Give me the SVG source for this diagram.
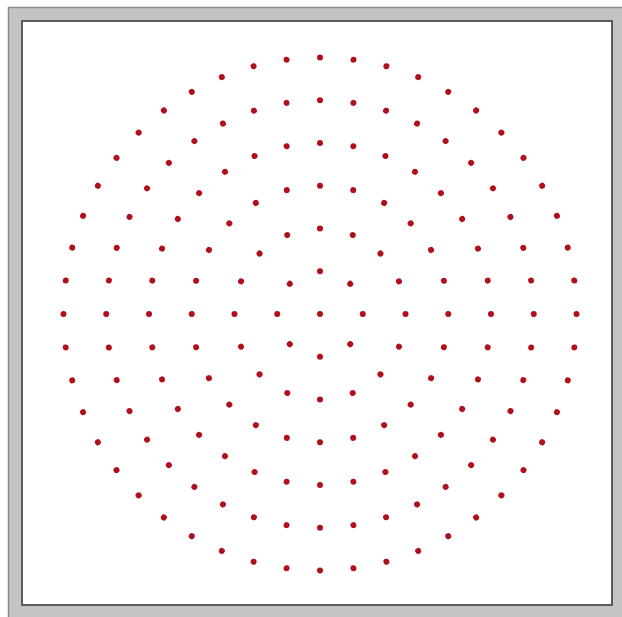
<svg xmlns="http://www.w3.org/2000/svg" xmlns:xlink="http://www.w3.org/1999/xlink" width="622" height="617" viewBox="0 0 622 617">
<style>
.dot{fill:#b0101c}
</style>
<defs>
<circle id="d1" class="dot" cx="362.75" cy="314" r="3"/>
<circle id="d2" class="dot" cx="405.5" cy="314" r="3"/>
<circle id="d3" class="dot" cx="448.25" cy="314" r="3"/>
<circle id="d4" class="dot" cx="491" cy="314" r="3"/>
<circle id="d5" class="dot" cx="533.75" cy="314" r="3"/>
<circle id="d6" class="dot" cx="576.5" cy="314" r="3"/>
</defs>
<rect x="0" y="0" width="622" height="617" fill="#ffffff"/>
<g id="frame">
<rect x="8.5" y="7.5" width="700" height="700" fill="#c4c4c4" stroke="#8a8a8a" stroke-width="1.5"/>
<rect x="22" y="21" width="590" height="584" fill="#ffffff" stroke="#5c5c5c" stroke-width="2"/>
</g>
<g id="dots">
<circle class="dot" cx="320" cy="314" r="3"/>
<g id="ring1">
<use href="#d1" transform="rotate(0 320 314)"/><use href="#d1" transform="rotate(45 320 314)"/><use href="#d1" transform="rotate(90 320 314)"/><use href="#d1" transform="rotate(135 320 314)"/><use href="#d1" transform="rotate(180 320 314)"/><use href="#d1" transform="rotate(225 320 314)"/><use href="#d1" transform="rotate(270 320 314)"/><use href="#d1" transform="rotate(315 320 314)"/>
</g>
<g id="ring2">
<use href="#d2" transform="rotate(0 320 314)"/><use href="#d2" transform="rotate(22.5 320 314)"/><use href="#d2" transform="rotate(45 320 314)"/><use href="#d2" transform="rotate(67.5 320 314)"/><use href="#d2" transform="rotate(90 320 314)"/><use href="#d2" transform="rotate(112.5 320 314)"/><use href="#d2" transform="rotate(135 320 314)"/><use href="#d2" transform="rotate(157.5 320 314)"/><use href="#d2" transform="rotate(180 320 314)"/><use href="#d2" transform="rotate(202.5 320 314)"/><use href="#d2" transform="rotate(225 320 314)"/><use href="#d2" transform="rotate(247.5 320 314)"/><use href="#d2" transform="rotate(270 320 314)"/><use href="#d2" transform="rotate(292.5 320 314)"/><use href="#d2" transform="rotate(315 320 314)"/><use href="#d2" transform="rotate(337.5 320 314)"/>
</g>
<g id="ring3">
<use href="#d3" transform="rotate(0 320 314)"/><use href="#d3" transform="rotate(15 320 314)"/><use href="#d3" transform="rotate(30 320 314)"/><use href="#d3" transform="rotate(45 320 314)"/><use href="#d3" transform="rotate(60 320 314)"/><use href="#d3" transform="rotate(75 320 314)"/><use href="#d3" transform="rotate(90 320 314)"/><use href="#d3" transform="rotate(105 320 314)"/><use href="#d3" transform="rotate(120 320 314)"/><use href="#d3" transform="rotate(135 320 314)"/><use href="#d3" transform="rotate(150 320 314)"/><use href="#d3" transform="rotate(165 320 314)"/><use href="#d3" transform="rotate(180 320 314)"/><use href="#d3" transform="rotate(195 320 314)"/><use href="#d3" transform="rotate(210 320 314)"/><use href="#d3" transform="rotate(225 320 314)"/><use href="#d3" transform="rotate(240 320 314)"/><use href="#d3" transform="rotate(255 320 314)"/><use href="#d3" transform="rotate(270 320 314)"/><use href="#d3" transform="rotate(285 320 314)"/><use href="#d3" transform="rotate(300 320 314)"/><use href="#d3" transform="rotate(315 320 314)"/><use href="#d3" transform="rotate(330 320 314)"/><use href="#d3" transform="rotate(345 320 314)"/>
</g>
<g id="ring4">
<use href="#d4" transform="rotate(0 320 314)"/><use href="#d4" transform="rotate(11.25 320 314)"/><use href="#d4" transform="rotate(22.5 320 314)"/><use href="#d4" transform="rotate(33.75 320 314)"/><use href="#d4" transform="rotate(45 320 314)"/><use href="#d4" transform="rotate(56.25 320 314)"/><use href="#d4" transform="rotate(67.5 320 314)"/><use href="#d4" transform="rotate(78.75 320 314)"/><use href="#d4" transform="rotate(90 320 314)"/><use href="#d4" transform="rotate(101.25 320 314)"/><use href="#d4" transform="rotate(112.5 320 314)"/><use href="#d4" transform="rotate(123.75 320 314)"/><use href="#d4" transform="rotate(135 320 314)"/><use href="#d4" transform="rotate(146.25 320 314)"/><use href="#d4" transform="rotate(157.5 320 314)"/><use href="#d4" transform="rotate(168.75 320 314)"/><use href="#d4" transform="rotate(180 320 314)"/><use href="#d4" transform="rotate(191.25 320 314)"/><use href="#d4" transform="rotate(202.5 320 314)"/><use href="#d4" transform="rotate(213.75 320 314)"/><use href="#d4" transform="rotate(225 320 314)"/><use href="#d4" transform="rotate(236.25 320 314)"/><use href="#d4" transform="rotate(247.5 320 314)"/><use href="#d4" transform="rotate(258.75 320 314)"/><use href="#d4" transform="rotate(270 320 314)"/><use href="#d4" transform="rotate(281.25 320 314)"/><use href="#d4" transform="rotate(292.5 320 314)"/><use href="#d4" transform="rotate(303.75 320 314)"/><use href="#d4" transform="rotate(315 320 314)"/><use href="#d4" transform="rotate(326.25 320 314)"/><use href="#d4" transform="rotate(337.5 320 314)"/><use href="#d4" transform="rotate(348.75 320 314)"/>
</g>
<g id="ring5">
<use href="#d5" transform="rotate(0 320 314)"/><use href="#d5" transform="rotate(9 320 314)"/><use href="#d5" transform="rotate(18 320 314)"/><use href="#d5" transform="rotate(27 320 314)"/><use href="#d5" transform="rotate(36 320 314)"/><use href="#d5" transform="rotate(45 320 314)"/><use href="#d5" transform="rotate(54 320 314)"/><use href="#d5" transform="rotate(63 320 314)"/><use href="#d5" transform="rotate(72 320 314)"/><use href="#d5" transform="rotate(81 320 314)"/><use href="#d5" transform="rotate(90 320 314)"/><use href="#d5" transform="rotate(99 320 314)"/><use href="#d5" transform="rotate(108 320 314)"/><use href="#d5" transform="rotate(117 320 314)"/><use href="#d5" transform="rotate(126 320 314)"/><use href="#d5" transform="rotate(135 320 314)"/><use href="#d5" transform="rotate(144 320 314)"/><use href="#d5" transform="rotate(153 320 314)"/><use href="#d5" transform="rotate(162 320 314)"/><use href="#d5" transform="rotate(171 320 314)"/><use href="#d5" transform="rotate(180 320 314)"/><use href="#d5" transform="rotate(189 320 314)"/><use href="#d5" transform="rotate(198 320 314)"/><use href="#d5" transform="rotate(207 320 314)"/><use href="#d5" transform="rotate(216 320 314)"/><use href="#d5" transform="rotate(225 320 314)"/><use href="#d5" transform="rotate(234 320 314)"/><use href="#d5" transform="rotate(243 320 314)"/><use href="#d5" transform="rotate(252 320 314)"/><use href="#d5" transform="rotate(261 320 314)"/><use href="#d5" transform="rotate(270 320 314)"/><use href="#d5" transform="rotate(279 320 314)"/><use href="#d5" transform="rotate(288 320 314)"/><use href="#d5" transform="rotate(297 320 314)"/><use href="#d5" transform="rotate(306 320 314)"/><use href="#d5" transform="rotate(315 320 314)"/><use href="#d5" transform="rotate(324 320 314)"/><use href="#d5" transform="rotate(333 320 314)"/><use href="#d5" transform="rotate(342 320 314)"/><use href="#d5" transform="rotate(351 320 314)"/>
</g>
<g id="ring6">
<use href="#d6" transform="rotate(0 320 314)"/><use href="#d6" transform="rotate(7.5 320 314)"/><use href="#d6" transform="rotate(15 320 314)"/><use href="#d6" transform="rotate(22.5 320 314)"/><use href="#d6" transform="rotate(30 320 314)"/><use href="#d6" transform="rotate(37.5 320 314)"/><use href="#d6" transform="rotate(45 320 314)"/><use href="#d6" transform="rotate(52.5 320 314)"/><use href="#d6" transform="rotate(60 320 314)"/><use href="#d6" transform="rotate(67.5 320 314)"/><use href="#d6" transform="rotate(75 320 314)"/><use href="#d6" transform="rotate(82.5 320 314)"/><use href="#d6" transform="rotate(90 320 314)"/><use href="#d6" transform="rotate(97.5 320 314)"/><use href="#d6" transform="rotate(105 320 314)"/><use href="#d6" transform="rotate(112.5 320 314)"/><use href="#d6" transform="rotate(120 320 314)"/><use href="#d6" transform="rotate(127.5 320 314)"/><use href="#d6" transform="rotate(135 320 314)"/><use href="#d6" transform="rotate(142.5 320 314)"/><use href="#d6" transform="rotate(150 320 314)"/><use href="#d6" transform="rotate(157.5 320 314)"/><use href="#d6" transform="rotate(165 320 314)"/><use href="#d6" transform="rotate(172.5 320 314)"/><use href="#d6" transform="rotate(180 320 314)"/><use href="#d6" transform="rotate(187.5 320 314)"/><use href="#d6" transform="rotate(195 320 314)"/><use href="#d6" transform="rotate(202.5 320 314)"/><use href="#d6" transform="rotate(210 320 314)"/><use href="#d6" transform="rotate(217.5 320 314)"/><use href="#d6" transform="rotate(225 320 314)"/><use href="#d6" transform="rotate(232.5 320 314)"/><use href="#d6" transform="rotate(240 320 314)"/><use href="#d6" transform="rotate(247.5 320 314)"/><use href="#d6" transform="rotate(255 320 314)"/><use href="#d6" transform="rotate(262.5 320 314)"/><use href="#d6" transform="rotate(270 320 314)"/><use href="#d6" transform="rotate(277.5 320 314)"/><use href="#d6" transform="rotate(285 320 314)"/><use href="#d6" transform="rotate(292.5 320 314)"/><use href="#d6" transform="rotate(300 320 314)"/><use href="#d6" transform="rotate(307.5 320 314)"/><use href="#d6" transform="rotate(315 320 314)"/><use href="#d6" transform="rotate(322.5 320 314)"/><use href="#d6" transform="rotate(330 320 314)"/><use href="#d6" transform="rotate(337.5 320 314)"/><use href="#d6" transform="rotate(345 320 314)"/><use href="#d6" transform="rotate(352.5 320 314)"/>
</g>
</g>
</svg>
